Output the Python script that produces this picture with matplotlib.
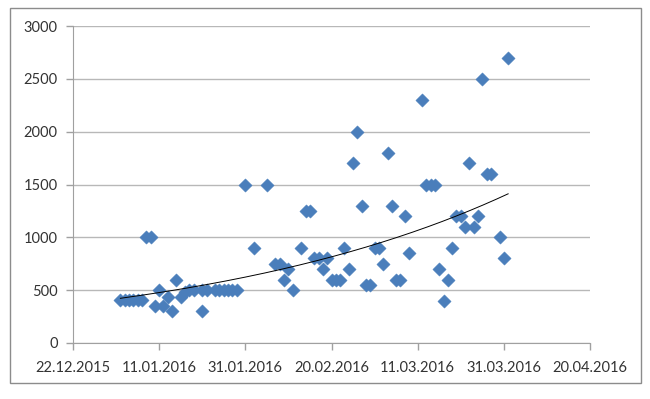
import numpy as np
import matplotlib
matplotlib.use("Agg")
from matplotlib import pyplot as plt
import matplotlib.dates as mdates
from matplotlib.patches import Rectangle
from datetime import datetime, timedelta

dates = ["02.01.2016", "03.01.2016", "04.01.2016", "05.01.2016", "06.01.2016", "07.01.2016",
         "08.01.2016", "09.01.2016",
         "10.01.2016", "11.01.2016", "12.01.2016", "13.01.2016", "14.01.2016", "15.01.2016", "16.01.2016", "17.01.2016",
         "18.01.2016", "19.01.2016", "21.01.2016", "21.01.2016", "22.01.2016", "24.01.2016", "25.01.2016",
         "26.01.2016", "27.01.2016", "28.01.2016", "29.01.2016",
         "31.01.2016", "02.02.2016", "05.02.2016",
         "07.02.2016", "08.02.2016", "09.02.2016", "10.02.2016", "11.02.2016", "13.02.2016", "14.02.2016", "15.02.2016",
         "16.02.2016", "17.02.2016", "18.02.2016", "19.02.2016",
         "20.02.2016", "21.02.2016", "22.02.2016", "23.02.2016", "24.02.2016", "25.02.2016", "26.02.2016", "27.02.2016",
         "28.02.2016", "29.02.2016", "01.03.2016", "02.03.2016", "03.03.2016", "04.03.2016", "05.03.2016",
         "06.03.2016", "07.03.2016", "08.03.2016", "09.03.2016",
         "12.03.2016", "13.03.2016", "14.03.2016", "15.03.2016", "16.03.2016", "17.03.2016", "18.03.2016",
         "19.03.2016", "20.03.2016", "21.03.2016", "22.03.2016", "23.03.2016", "24.03.2016", "25.03.2016",
         "26.03.2016", "27.03.2016", "28.03.2016", "30.03.2016", "31.03.2016", "01.04.2016"]
values = [410, 410, 410, 410, 410, 410,
          1000, 1000,
          350, 500, 350, 440, 300, 600, 440, 480,
          500, 500, 300, 500, 500, 500, 500,
          500, 500, 500, 500,
          1500, 900, 1500,
          750, 750, 600, 700, 500, 900, 1250, 1250,
          800, 800, 700, 800,
          600, 600, 600, 900, 700, 1700, 2000, 1300,
          550, 550, 900, 900, 750, 1800, 1300,
          600, 600, 1200, 850,
          2300, 1500, 1500, 1500, 700, 400, 600,
          900, 1200, 1200, 1100, 1700, 1100, 1200,
          2500, 1600, 1600, 1000, 800, 2700]

tick_start = "22.12.2015"
tick_step = 20
n_ticks = 7
y_ticks = [0, 500, 1000, 1500, 2000, 2500, 3000]

x = [datetime.strptime(d, "%d.%m.%Y") for d in dates]
xn = mdates.date2num(x)
y = np.array(values, dtype=float)

# exponential trendline, like excel
k, b = np.polyfit(xn, np.log(y), 1)
tx = np.linspace(xn.min(), xn.max(), 200)
ty = np.exp(b + k * tx)

plt.rcParams['font.family'] = ['Lato', 'DejaVu Sans']

fig = plt.figure(figsize=(6.5, 3.99), dpi=100)
ax = fig.add_axes([73 / 650, 1 - 343 / 399, 517 / 650, 317 / 399])

ax.scatter(xn, y, marker="D", s=46, color="#4a7ebb", edgecolors="#4a7ebb", linewidths=0.3, zorder=3)
ax.plot(tx, ty, color="black", linewidth=0.7, zorder=4)

t0 = datetime.strptime(tick_start, "%d.%m.%Y")
ticks = [t0 + timedelta(days=tick_step * i) for i in range(n_ticks)]
ax.set_xticks(mdates.date2num(ticks))
ax.set_xticklabels([t.strftime("%d.%m.%Y") for t in ticks])
ax.set_xlim(mdates.date2num(ticks[0]), mdates.date2num(ticks[-1]))
ax.set_yticks(y_ticks)
ax.set_ylim(0, 3000)

ax.grid(axis="y", color="#b8b8b8", linewidth=1)
ax.set_axisbelow(True)
for s in ["top", "right"]:
    ax.spines[s].set_visible(False)
for s in ["left", "bottom"]:
    ax.spines[s].set_color("#a0a0a0")
ax.tick_params(axis="both", colors="#a0a0a0", labelcolor="#333333", labelsize=10.5, length=5, width=1)
ax.tick_params(axis="x", pad=8)
ax.tick_params(axis="y", pad=6)

fig.patches.append(Rectangle((10 / 650, 1 - 383 / 399), 631 / 650, 375 / 399, transform=fig.transFigure,
                             fill=False, edgecolor="#8c8c8c", linewidth=1))

fig.savefig("out.png", dpi=100)
